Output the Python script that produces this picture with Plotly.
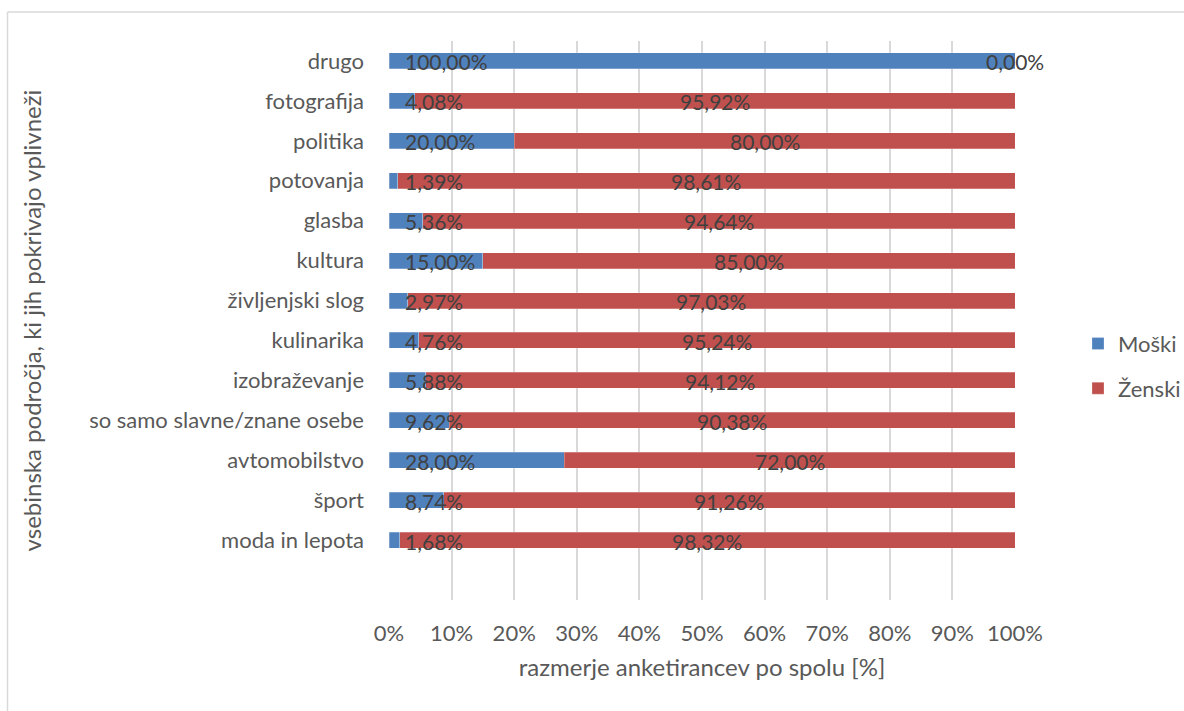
import plotly.graph_objects as go

categories = ["drugo", "fotografija", "politika", "potovanja", "glasba", "kultura",
              "življenjski slog", "kulinarika", "izobraževanje",
              "so samo slavne/znane osebe", "avtomobilstvo", "šport", "moda in lepota"]
moski = [100.00, 4.08, 20.00, 1.39, 5.36, 15.00, 2.97, 4.76, 5.88, 9.62, 28.00, 8.74, 1.68]
zenski = [0.00, 95.92, 80.00, 98.61, 94.64, 85.00, 97.03, 95.24, 94.12, 90.38, 72.00, 91.26, 98.32]
x_ticks = [0, 10, 20, 30, 40, 50, 60, 70, 80, 90, 100]

W, H = 1184, 711
L, R, T, B = 389, 1015, 41.4, 600

FONT = "Lato, Calibri, 'Open Sans', sans-serif"
FS = 21
FS_TICK = 22
FS_TITLE = 24
BLUE = "#4F81BD"
RED = "#C0504D"

fig = go.Figure()
fig.add_trace(go.Bar(y=categories, x=moski, name="Moški", orientation="h",
                     marker=dict(color=BLUE, line=dict(color="rgba(255,255,255,0.5)", width=0.5)),
                     width=0.4, legendgroup="m"))
fig.add_trace(go.Bar(y=categories, x=zenski, name="Ženski", orientation="h",
                     marker=dict(color=RED, line=dict(color="rgba(255,255,255,0.5)", width=0.5)),
                     width=0.4, legendgroup="z"))

def fmt(v):
    return f"{v:.2f}".replace(".", ",") + "%"

ann = []
for c, m, z in zip(categories, moski, zenski):
    ann.append(dict(x=0, y=c, xref="x", yref="y", text=fmt(m), showarrow=False,
                    xanchor="left", xshift=14, yshift=-1,
                    font=dict(family=FONT, size=FS, color="#404040")))
    ann.append(dict(x=m + z / 2, y=c, xref="x", yref="y", text=fmt(z), showarrow=False,
                    xanchor="center", yshift=-1,
                    font=dict(family=FONT, size=FS, color="#404040")))

def px_x(p):
    return (p - L) / (R - L)

def px_y(p):
    return (B - p) / (B - T)

shapes = [
    dict(type="line", xref="paper", yref="paper", x0=px_x(7.5), x1=px_x(1190), y0=px_y(12.5), y1=px_y(12.5),
         line=dict(color="#D9D9D9", width=1.5)),
    dict(type="line", xref="paper", yref="paper", x0=px_x(7.5), x1=px_x(7.5), y0=px_y(12.5), y1=px_y(720),
         line=dict(color="#D9D9D9", width=1.5)),
]

fig.update_layout(
    width=W, height=H,
    margin=dict(l=L, r=W - R, t=T, b=H - B, pad=0, autoexpand=False),
    barmode="stack",
    plot_bgcolor="white", paper_bgcolor="white",
    font=dict(family=FONT, size=FS, color="#595959"),
    annotations=ann,
    shapes=shapes,
    legend=dict(x=px_x(1078), y=px_y(323), xanchor="left", yanchor="top",
                traceorder="grouped", tracegroupgap=13,
                font=dict(family=FONT, size=FS_TICK, color="#595959"),
                itemwidth=30),
)
fig.update_xaxes(range=[0, 100], tickvals=x_ticks, ticktext=[f"{v}%" for v in x_ticks],
                 tickfont=dict(family=FONT, size=FS_TICK, color="#595959"),
                 showgrid=True, gridcolor="#D9D9D9", gridwidth=1.5, zeroline=False,
                 showline=False, ticks="", ticklabelstandoff=18,
                 title=dict(text="razmerje anketirancev po spolu [%]", standoff=14,
                            font=dict(family=FONT, size=FS_TITLE, color="#595959")))
fig.update_yaxes(categoryorder="array", categoryarray=categories[::-1], range=[-1.5, 12.5],
                 tickfont=dict(family=FONT, size=FS_TICK, color="#595959"),
                 showgrid=False, zeroline=False, showline=False, ticks="",
                 ticklabelstandoff=24,
                 title=dict(text="vsebinska področja, ki jih pokrivajo vplivneži", standoff=40,
                            font=dict(family=FONT, size=FS_TITLE, color="#595959")))

fig.write_html("out.html")
